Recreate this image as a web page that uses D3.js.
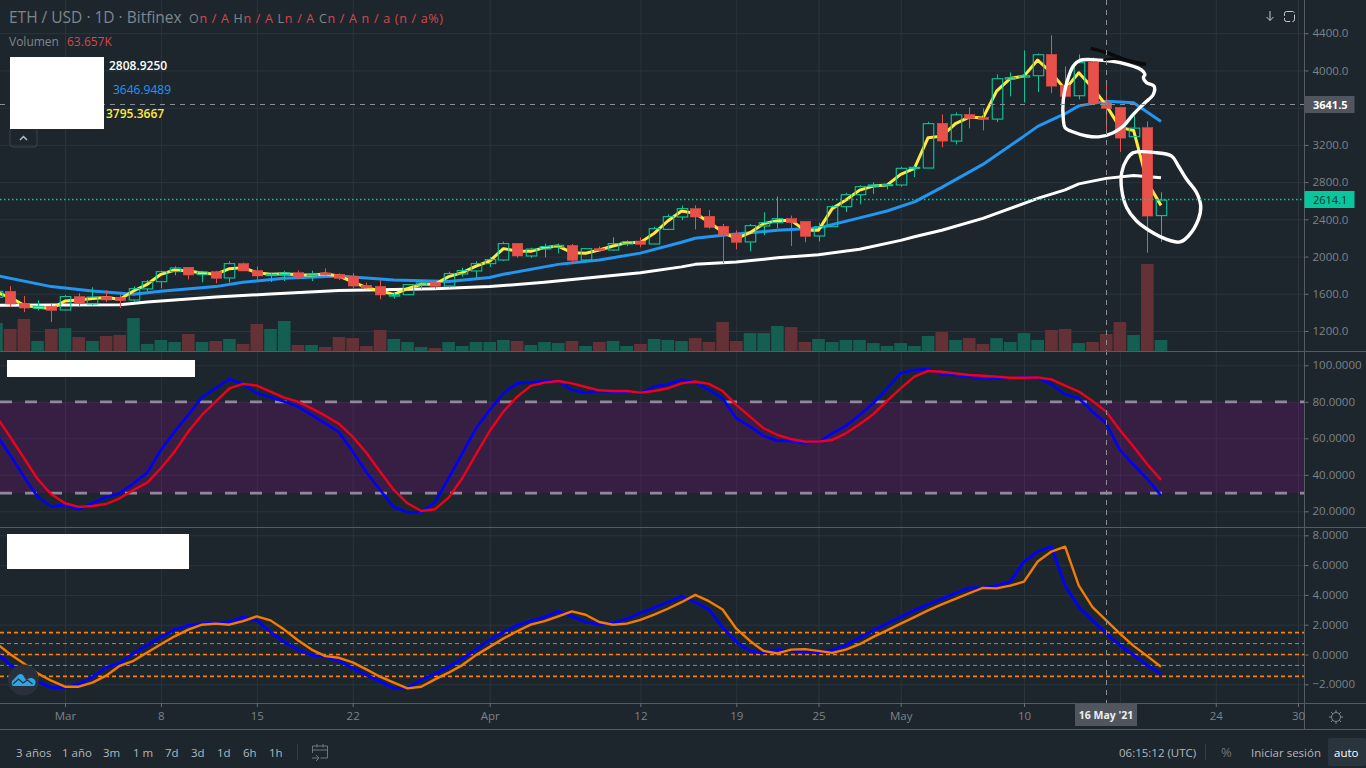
<!DOCTYPE html>
<html>
<head>
<meta charset="utf-8">
<script src="https://cdn.jsdelivr.net/npm/d3@7"></script>
<style>
  html, body { margin: 0; padding: 0; background: #1d262d; overflow: hidden; }
  svg { display: block; }
  text { font-family: "Open Sans", "Noto Sans", sans-serif; }
  .axis path { display: none; }
  .axis line { stroke: #6a7076; }
  .axis text { fill: #7c8389; font-size: 11.5px; }
  .grid line { stroke: #2a343c; }
  .grid path { display: none; }
</style>
</head>
<body>
<svg id="chart" width="1366" height="768"></svg>
<script>
// days are counted from 1 Mar 2021, candles run from 24 Feb to 20 May
const firstDay = -5

const openPrices = [1562,1626,1497,1445,1465,1426,1570,1490,1570,1562,
  1533,1652,1730,1838,1885,1806,1838,1770,1924,1849,
  1795,1806,1827,1797,1824,1809,1788,1691,1680,1575,
  1590,1694,1723,1684,1813,1845,1924,1963,2142,2006,
  2081,2100,2120,1963,2085,2070,2135,2167,2135,2292,
  2425,2515,2432,2325,2239,2157,2328,2364,2407,2378,
  2221,2321,2536,2665,2755,2762,2769,2948,2951,3432,
  3241,3527,3495,3477,3907,3928,3943,4172,3842,3728,
  4089,3653,3603,3288,3385,2440]
const highPrices = [1650,1683,1576,1530,1487,1587,1605,1670,1637,1590,
  1680,1748,1848,1895,1885,1848,1848,1949,1935,1892,
  1827,1848,1852,1848,1873,1820,1820,1720,1745,1610,
  1705,1742,1745,1838,1880,1950,1995,2160,2142,2095,
  2139,2139,2135,2085,2110,2206,2175,2206,2321,2454,
  2550,2550,2500,2350,2282,2350,2475,2644,2440,2378,
  2364,2550,2686,2765,2797,2780,2965,2972,3449,3527,
  3549,3603,3592,3957,3979,4215,4183,4376,4043,4172,
  4140,3871,3603,3509,3452,2690]
const lowPrices = [1540,1458,1404,1422,1297,1419,1465,1476,1512,1447,
  1512,1626,1659,1798,1755,1723,1712,1720,1845,1737,
  1726,1737,1755,1737,1795,1748,1655,1655,1540,1548,
  1590,1655,1655,1666,1784,1770,1887,1952,1989,1985,
  1992,2035,1930,1963,2049,2059,2113,2100,2135,2285,
  2392,2292,2300,1927,2078,2056,2228,2303,2113,2153,
  2163,2321,2478,2561,2672,2722,2751,2854,2951,3173,
  3205,3377,3355,3445,3721,3656,3767,3756,3721,3689,
  3649,3355,3123,3288,2042,2156]
const closePrices = [1626,1490,1447,1465,1422,1570,1495,1565,1533,1527,
  1655,1730,1838,1877,1802,1835,1766,1924,1845,1791,
  1809,1824,1780,1812,1802,1766,1683,1662,1587,1590,
  1698,1716,1680,1817,1849,1924,1967,2139,2006,2081,
  2107,2120,1960,2085,2064,2139,2160,2131,2300,2429,
  2515,2425,2314,2228,2153,2332,2364,2407,2364,2217,
  2321,2536,2665,2751,2769,2773,2948,2958,3428,3241,
  3523,3484,3474,3911,3922,3943,4169,3831,3721,4083,
  3649,3592,3273,3380,2435,2607]
const volumesK = [162,128,186,58,128,133,81,58,87,93,
  191,41,64,52,99,52,58,70,41,157,
  128,174,35,35,23,81,75,29,122,70,
  52,23,17,52,29,52,52,64,58,35,
  52,46,58,29,52,58,29,41,70,64,
  58,75,52,168,58,104,104,145,139,52,
  70,52,64,64,46,29,46,29,87,110,
  64,75,41,75,52,104,64,122,128,46,
  52,99,168,93,505,64]
const fastAverage = [1616,1562,1476,1455,1441,1522,1533,1548,1559,1541,
  1630,1702,1809,1855,1845,1823,1809,1870,1881,1827,
  1809,1816,1805,1802,1812,1791,1727,1666,1630,1594,
  1655,1702,1702,1784,1827,1898,1952,2085,2059,2056,
  2096,2113,2042,2035,2070,2113,2150,2150,2249,2382,
  2489,2464,2371,2263,2192,2257,2354,2386,2389,2282,
  2282,2515,2607,2714,2757,2768,2883,2947,3277,3294,
  3428,3499,3488,3778,3914,3939,4111,3975,3796,3975,
  3814,3624,3388,3355,2797,2550]

// the two slow averages were read at their visible bends
const midDays = [-5,-1,2,5,7,11,13,16,20,24,28,31,32,36,39,42,45,46,48,52,55,58,60,62,64,67,70,71,73,74,76,78,80]
const midAverage = [1795,1677,1630,1594,1626,1677,1723,1766,1791,1748,1731,1774,1809,1916,1963,2037,2153,2196,2228,2282,2306,2416,2489,2588,2743,2990,3294,3399,3535,3619,3670,3653,3452]
const slowDays = [-5,4,6,11,15,20,27,31,35,42,45,46,49,52,55,58,61,62,64,67,71,73,74,76,78,80]
const slowAverage = [1476,1481,1511,1565,1597,1634,1655,1677,1723,1825,1889,1916,1941,1986,2020,2078,2174,2212,2282,2410,2625,2717,2781,2840,2872,2848]

const stochK = [61.8,50.9,39.0,28.0,22.6,23.5,21.1,24.4,27.7,29.9,
  35.3,41.2,53.6,63.7,72.8,82.5,87.4,92.5,89.6,84.7,
  82.5,80.1,77.4,72.8,68.2,63.3,52.7,41.4,31.7,22.2,
  19.5,19.5,24.9,38.1,51.8,65.5,75.5,84.7,90.1,90.7,
  91.2,91.4,86.5,85.0,85.9,85.6,85.6,84.7,88.3,89.6,
  92.0,90.7,86.5,81.9,71.0,66.4,61.3,58.7,58.5,57.3,
  57.8,62.7,66.8,72.8,79.2,87.4,95.6,97.4,98.0,95.1,
  94.7,93.8,92.9,92.9,92.9,93.4,93.2,89.6,84.1,81.9,
  74.6,68.2,53.6,45.4,37.7,28.6]
const stochD = [71.9,60.7,49.2,37.7,29.3,24.4,22.4,22.9,24.0,27.1,
  31.7,35.7,43.6,52.7,63.7,72.8,80.1,87.4,89.8,88.9,
  85.6,82.3,80.1,76.4,72.4,67.9,60.9,52.1,41.7,31.7,
  24.4,20.2,21.1,27.5,38.1,51.2,64.0,74.6,82.8,88.7,
  90.5,91.4,90.1,88.1,86.3,85.9,85.9,85.0,85.9,87.4,
  90.1,91.1,89.8,85.9,78.3,71.9,65.5,61.8,59.6,58.2,
  58.2,59.1,62.7,67.7,73.2,80.5,87.4,93.8,96.9,96.5,
  95.6,94.7,94.3,93.8,93.2,93.2,93.4,92.3,88.9,85.6,
  80.5,74.6,64.6,55.4,45.8,37.2]
const lowerFast = [0.11,-0.71,-1.27,-1.82,-2.22,-2.20,-1.98,-1.53,-0.87,-0.56,
  0.07,0.62,1.18,1.67,1.96,2.07,2.11,2.18,2.51,2.29,
  1.51,0.84,0.33,-0.04,-0.16,-0.42,-0.93,-1.38,-1.82,-2.27,
  -2.27,-1.71,-1.31,-0.82,-0.27,0.33,0.96,1.51,1.96,2.24,
  2.51,2.89,2.56,2.18,2.02,2.11,2.40,2.78,3.13,3.51,
  3.91,3.51,3.02,1.84,0.84,0.24,0.11,0.33,0.24,0.18,
  0.11,0.29,0.62,1.13,1.62,2.07,2.51,2.96,3.36,3.73,
  4.11,4.47,4.47,4.62,4.89,6.24,6.91,7.24,4.62,3.18,
  2.29,1.40,0.62,-0.04,-0.71,-1.31]
const lowerSlow = [0.73,0.02,-0.60,-1.27,-1.76,-2.16,-2.16,-1.89,-1.42,-0.76,
  -0.42,0.13,0.69,1.22,1.67,2.00,2.07,2.00,2.24,2.56,
  2.29,1.67,0.96,0.33,-0.11,-0.22,-0.53,-1.00,-1.49,-1.89,
  -2.27,-2.16,-1.67,-1.22,-0.71,-0.04,0.51,1.07,1.56,2.00,
  2.24,2.56,2.89,2.67,2.18,2.00,2.07,2.33,2.67,3.07,
  3.51,4.00,3.58,3.02,1.73,0.91,0.24,0.07,0.33,0.36,
  0.24,0.11,0.33,0.69,1.18,1.62,2.07,2.51,2.96,3.36,
  3.73,4.11,4.47,4.44,4.62,4.89,6.24,6.91,7.24,4.62,
  3.18,2.29,1.40,0.58,-0.11,-0.82]

const priceTicks = [1200,1600,2000,2400,2800,3200,3600,4000,4400]
const priceLabelTicks = [1200,1600,2000,2400,2800,3200,4000,4400]
const stochTicks = [20,40,60,80,100]
const lowerTicks = [-2,0,2,4,6,8]
const timeTicks = [0,7,14,21,31,42,49,55,61,70,77,84,90]
const timeLabelTicks = [0,7,14,21,31,42,49,55,61,70,84,90]
const timeLabels = ['Mar','8','15','22','Apr','12','19','25','May','10','24','30']
const stochBand = [30,80]
const lowerOrangeLevels = [-1.47,0,1.47]
const lowerGrayLevels = [-0.73,0.73]
const lastPrice = 2614.1
const crossPrice = 3641.5
const crossDay = 76
const rangeButtons = ['3 años','1 año','3m','1 m','7d','3d','1d','6h','1h']

// pen marks left on the picture, as [day, price]
const penLoopTop = [[74.09,4108],[75.55,4111],[77.01,4083],[78.59,4004],[78.83,3957],[78.71,3922],[78.95,3868],[79.49,3832],[79.44,3743],[78.83,3653],[77.98,3528],[77.25,3402],[76.52,3331],[75.55,3288],[74.58,3295],[73.6,3338],[73,3385],[72.87,3474],[72.87,3689],[73.12,3868],[73.6,4047]]
const penLoopLow = [[77.98,3116],[79.68,3116],[80.78,3080],[81.27,2973],[81.87,2830],[82.6,2686],[82.9,2543],[82.73,2400],[82,2221],[81.39,2157],[80.41,2185],[79.2,2275],[78.22,2382],[77.5,2525],[77.13,2722],[77.13,2901],[77.5,3044]]
const penStrokeA = [[74.87,4237],[76.04,4190],[77.49,4111],[78.91,4065]]
const penStrokeB = [[75.79,4111],[77.01,4126],[78.71,4054]]

const GREEN = '#08c79c'
const RED = '#e8504a'
const AXIS_X = 1304.5
const TIME_Y = 703
const BOTTOM_Y = 729

const days = openPrices.map((_, i) => firstDay + i)
const svg = d3.select('#chart')

const x = d3.scaleLinear().domain([0, 90]).range([65, 1298])
const yPrice = d3.scaleLinear().domain([1200, 4400]).range([331, 33.2])
const yVolume = d3.scaleLinear().domain([0, 505]).range([351, 264])
const yStoch = d3.scaleLinear().domain([20, 100]).range([511.3, 365.3])
const yLower = d3.scaleLinear().domain([-2, 8]).range([684.3, 535.3])

svg.append('rect').attr('width', 1366).attr('height', 768).attr('fill', '#1d262d')

// ---- grids
const grid = svg.append('g').attr('class', 'grid')
grid.append('g').attr('transform', `translate(0,${TIME_Y})`)
  .call(d3.axisBottom(x).tickValues(timeTicks).tickSize(-TIME_Y).tickFormat(''))
const hGrid = (scale, ticks) => grid.append('g').attr('transform', `translate(${AXIS_X},0)`)
  .call(d3.axisLeft(scale).tickValues(ticks).tickSize(AXIS_X).tickFormat(''))
hGrid(yPrice, priceTicks)
hGrid(yStoch, stochTicks)
hGrid(yLower, lowerTicks)

// ---- volume
const bodyWidth = 10.5
svg.append('g').selectAll('rect').data(days).join('rect')
  .attr('x', d => x(d) - 6.3)
  .attr('width', 12.6)
  .attr('y', (d, i) => yVolume(volumesK[i]))
  .attr('height', (d, i) => yVolume(0) - yVolume(volumesK[i]))
  .attr('fill', (d, i) => closePrices[i] >= openPrices[i] ? '#155f52' : '#643236')

// ---- moving averages
const priceLine = d3.line().x(d => x(d[0])).y(d => yPrice(d[1]))
const drawLine = (pts, gen, color, width) => svg.append('path').datum(pts)
  .attr('d', gen).attr('fill', 'none').attr('stroke', color).attr('stroke-width', width)
  .attr('stroke-linejoin', 'round')
drawLine(slowDays.map((d, i) => [d, slowAverage[i]]), priceLine, '#ffffff', 3)
drawLine(midDays.map((d, i) => [d, midAverage[i]]), priceLine, '#2196f3', 3)
drawLine(days.map((d, i) => [d, fastAverage[i]]), priceLine, '#ffeb3b', 3)

// ---- candles
const candles = svg.append('g').selectAll('g').data(days).join('g')
candles.each(function (d, i) {
  const up = closePrices[i] >= openPrices[i]
  const color = up ? GREEN : RED
  const g = d3.select(this)
  const cx = Math.round(x(d)) + 0.5
  const top = yPrice(Math.max(openPrices[i], closePrices[i]))
  const bottom = yPrice(Math.min(openPrices[i], closePrices[i]))
  g.append('line').attr('x1', cx).attr('x2', cx)
    .attr('y1', yPrice(highPrices[i])).attr('y2', top).attr('stroke', color)
  g.append('line').attr('x1', cx).attr('x2', cx)
    .attr('y1', bottom).attr('y2', yPrice(lowPrices[i])).attr('stroke', color)
  g.append('rect')
    .attr('x', cx - bodyWidth / 2).attr('width', bodyWidth)
    .attr('y', top).attr('height', Math.max(bottom - top, 1))
    .attr('fill', up ? 'none' : color)
    .attr('stroke', color).attr('stroke-width', up ? 1.1 : 0.5)
})

// ---- pen marks
const penLoop = d3.line().x(d => x(d[0])).y(d => yPrice(d[1])).curve(d3.curveCatmullRomClosed)
const penStroke = d3.line().x(d => x(d[0])).y(d => yPrice(d[1])).curve(d3.curveCatmullRom)
drawLine(penLoopTop, penLoop, '#ffffff', 3.4)
drawLine(penLoopLow, penLoop, '#ffffff', 3.4)
drawLine(penStrokeA, penStroke, '#0b0b0b', 3.5)
drawLine(penStrokeB, penStroke, '#0b0b0b', 2.5)

// ---- stochastic pane
svg.append('rect').attr('x', 0).attr('width', AXIS_X)
  .attr('y', yStoch(stochBand[1])).attr('height', yStoch(stochBand[0]) - yStoch(stochBand[1]))
  .attr('fill', '#850a89').attr('fill-opacity', 0.25)
svg.append('g').selectAll('line').data(stochBand).join('line')
  .attr('x1', 0).attr('x2', AXIS_X)
  .attr('y1', d => yStoch(d)).attr('y2', d => yStoch(d))
  .attr('stroke', '#93869b').attr('stroke-width', 2.7).attr('stroke-dasharray', '12 13')
const stochLine = d3.line().x((d, i) => x(days[i])).y(d => yStoch(d))
drawLine(stochK, stochLine, '#0000ff', 2.6)
drawLine(stochD, stochLine, '#f0001c', 2.4)

// ---- lower pane
const levelLines = (levels, color, width) => svg.append('g').selectAll('line').data(levels).join('line')
  .attr('x1', 0).attr('x2', AXIS_X)
  .attr('y1', d => yLower(d)).attr('y2', d => yLower(d))
  .attr('stroke', color).attr('stroke-width', width).attr('stroke-dasharray', '4 3')
levelLines(lowerGrayLevels, '#888d90', 1)
levelLines(lowerOrangeLevels, '#ff7f00', 1.6)
const lowerLine = d3.line().x((d, i) => x(days[i])).y(d => yLower(d))
drawLine(lowerFast, lowerLine, '#0000ff', 2.8)
drawLine(lowerSlow, lowerLine, '#f57c00', 2.4)

// ---- last price and crosshair
const lastY = Math.round(yPrice(lastPrice)) + 0.5
svg.append('line').attr('x1', 0).attr('x2', AXIS_X).attr('y1', lastY).attr('y2', lastY)
  .attr('stroke', GREEN).attr('stroke-width', 1.6).attr('stroke-dasharray', '1.5 2.5')
const crossY = Math.round(yPrice(crossPrice)) + 0.5
const crossX = Math.round(x(crossDay)) + 0.5
svg.append('line').attr('x1', 0).attr('x2', AXIS_X).attr('y1', crossY).attr('y2', crossY)
  .attr('stroke', '#8b8f92').attr('stroke-dasharray', '5 5')
svg.append('line').attr('x1', crossX).attr('x2', crossX).attr('y1', 0).attr('y2', TIME_Y)
  .attr('stroke', '#8b8f92').attr('stroke-dasharray', '5 5')

// ---- pane frames
const frame = [[0, 1366, 351.5, 351.5], [0, 1366, 527.5, 527.5], [0, 1366, TIME_Y + 0.5, TIME_Y + 0.5], [0, 1366, BOTTOM_Y + 0.5, BOTTOM_Y + 0.5], [AXIS_X, AXIS_X, 0, BOTTOM_Y]]
svg.append('g').selectAll('line').data(frame).join('line')
  .attr('x1', d => d[0]).attr('x2', d => d[1]).attr('y1', d => d[2]).attr('y2', d => d[3])
  .attr('stroke', '#555b60')

// ---- axes
const rightAxis = (scale, ticks, fmt) => svg.append('g').attr('class', 'axis')
  .attr('transform', `translate(${AXIS_X},0)`)
  .call(d3.axisRight(scale).tickValues(ticks).tickSize(4).tickPadding(4).tickFormat(d3.format(fmt)))
rightAxis(yPrice, priceLabelTicks, '.1f')
rightAxis(yStoch, stochTicks, '.4f')
rightAxis(yLower, lowerTicks, '.4f')
svg.append('g').attr('class', 'axis').attr('transform', `translate(0,${TIME_Y})`)
  .call(d3.axisBottom(x).tickValues(timeLabelTicks).tickSize(4).tickPadding(5).tickFormat((d, i) => timeLabels[i]))

// ---- axis tags
const tag = (y, fill, color, label, weight) => {
  svg.append('rect').attr('x', AXIS_X).attr('y', y - 8.5).attr('width', 50).attr('height', 17).attr('fill', fill)
  svg.append('text').attr('x', 1313).attr('y', y + 4).attr('fill', color).attr('font-size', 11)
    .attr('font-weight', weight).text(label)
}
tag(crossY, '#50555e', '#ffffff', d3.format('.1f')(crossPrice), 700)
tag(lastY, GREEN, '#10302a', d3.format('.1f')(lastPrice), 400)
svg.append('rect').attr('x', 1075).attr('y', TIME_Y).attr('width', 62).attr('height', 23).attr('fill', '#50555e')
svg.append('text').attr('x', 1106).attr('y', 719).attr('text-anchor', 'middle').attr('fill', '#eceef0')
  .attr('font-size', 10.5).attr('font-weight', 700).text("16 May '21")

// ---- legend
const label = (px, py, txt, color, size, weight) => svg.append('text').attr('x', px).attr('y', py)
  .attr('fill', color).attr('font-size', size || 12).attr('font-weight', weight || 400).text(txt)
label(9, 23, 'ETH / USD · 1D · Bitfinex', '#7f868c', 15.5)
const ohlc = svg.append('text').attr('x', 189).attr('y', 23).attr('font-size', 12.5).attr('letter-spacing', 0.7)
;[['O', 0], ['n / A ', 1], ['H', 0], ['n / A ', 1], ['L', 0], ['n / A ', 1], ['C', 0], ['n / A ', 1], ['n / a (n / a%)', 1]]
  .forEach(p => ohlc.append('tspan').attr('fill', p[1] ? '#d8474a' : '#7f868c').text(p[0]))
label(9, 46, 'Volumen', '#7f868c', 12)
label(67, 46, '63.657K', '#d8474a', 12)
label(109, 70, '2808.9250', '#ffffff', 12, 600)
label(113, 94, '3646.9489', '#2196f3', 12)
label(106, 118, '3795.3667', '#ffeb3b', 12, 600)

// collapse button
svg.append('rect').attr('x', 10).attr('y', 125).attr('width', 27).attr('height', 22).attr('rx', 3)
  .attr('fill', 'none').attr('stroke', '#3a434a')
svg.append('path').attr('d', 'M20 140l3.5-3.5 3.5 3.5').attr('fill', 'none').attr('stroke', '#b8bcc0').attr('stroke-width', 1.5)

// cover boxes
const covers = [[10, 57, 94, 72], [7, 360, 188, 17], [7, 534, 182, 35]]
svg.append('g').selectAll('rect').data(covers).join('rect')
  .attr('x', d => d[0]).attr('y', d => d[1]).attr('width', d => d[2]).attr('height', d => d[3]).attr('fill', '#fff')

// ---- logo
svg.append('circle').attr('cx', 23.5).attr('cy', 680).attr('r', 15.5).attr('fill', '#2a2f3c')
svg.append('path').attr('d', 'M13 686a4 4 0 0 1 0-6l5-5a4 4 0 0 1 5 0l3 5 2-1a4 4 0 0 1 6 7z').attr('fill', '#2ea6e6')
svg.append('path').attr('d', 'M13 684l5.5-5 4.5 4 4.5-3 5 4').attr('fill', 'none').attr('stroke', '#2a2f3c').attr('stroke-width', 1.3)

// ---- top right icons
svg.append('path').attr('d', 'M1270 11v9.5M1266.5 17l3.5 3.5 3.5-3.5').attr('fill', 'none').attr('stroke', '#c6cacd')
svg.append('rect').attr('x', 1284.5).attr('y', 11.5).attr('width', 10).attr('height', 10).attr('rx', 2)
  .attr('fill', 'none').attr('stroke', '#c6cacd').attr('stroke-dasharray', '8 2')

// ---- sun icon in the axis corner
const sun = svg.append('g').attr('transform', 'translate(1336,717)').attr('stroke', '#7f868c').attr('fill', 'none')
sun.append('circle').attr('r', 4.5)
sun.selectAll('line').data(d3.range(8)).join('line')
  .attr('x1', d => 4.5 * Math.cos(d * Math.PI / 4)).attr('y1', d => 4.5 * Math.sin(d * Math.PI / 4))
  .attr('x2', d => 7 * Math.cos(d * Math.PI / 4)).attr('y2', d => 7 * Math.sin(d * Math.PI / 4))

// ---- bottom bar
const rangeX = [16, 62, 103, 133, 165, 191, 217, 243, 269]
rangeButtons.forEach((t, i) => label(rangeX[i], 757, t, '#b4b8bc', 11.5))
svg.append('line').attr('x1', 297.5).attr('x2', 297.5).attr('y1', 744).attr('y2', 760).attr('stroke', '#363f46')
svg.append('path').attr('d', 'M312.5 753v-7h15v12h-7M312.5 750h15M317 744v3.5M323 744v3.5M312 758h7M316 755l3 3-3 3')
  .attr('fill', 'none').attr('stroke', '#6f777d')
label(1119, 757, '06:15:12 (UTC)', '#b4b8bc', 11.5)
svg.append('line').attr('x1', 1205.5).attr('x2', 1205.5).attr('y1', 744).attr('y2', 760).attr('stroke', '#363f46')
label(1221, 757, '%', '#6f777d', 13)
label(1251, 757, 'Iniciar sesión', '#b4b8bc', 11.5)
svg.append('rect').attr('x', 1328).attr('y', 738).attr('width', 38).attr('height', 28).attr('rx', 2).attr('fill', '#2a343c')
label(1334, 757, 'auto', '#ffffff', 11.5)
</script>
</body>
</html>
